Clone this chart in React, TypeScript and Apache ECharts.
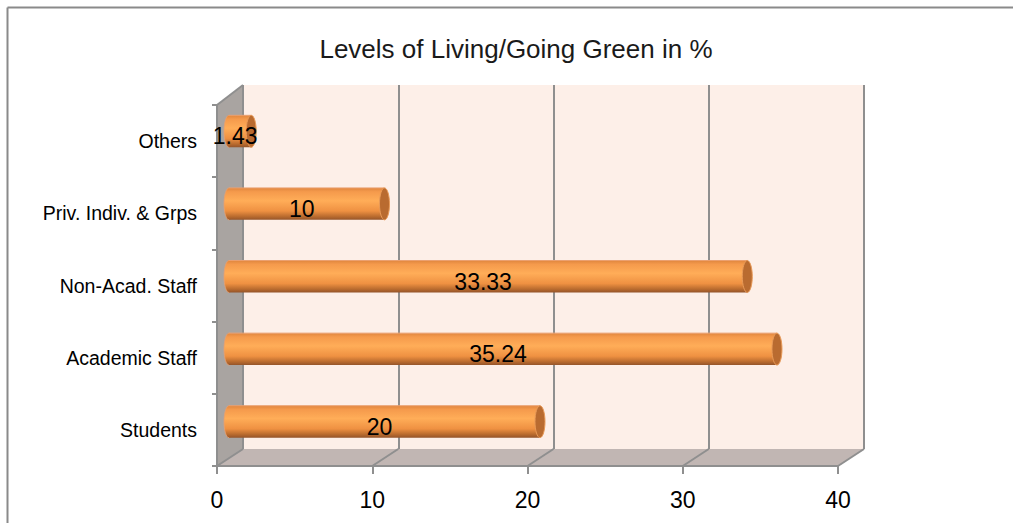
import React, { useEffect, useRef } from "react";
import * as echarts from "echarts";

const categories = ["Students", "Academic Staff", "Non-Acad. Staff", "Priv. Indiv. & Grps", "Others"];
const values = [20, 35.24, 33.33, 10, 1.43];
const valueLabels = ["20", "35.24", "33.33", "10", "1.43"];
const xTicks = [0, 10, 20, 30, 40];
const titleText = "Levels of Living/Going Green in %";

const FONT = "'Liberation Sans', Arial, sans-serif";
const GRID_COLOR = "#8f8f8f";

// layout of the three depth planes
const FRONT = { left: 217, top: 105, width: 621, height: 361 };
const BACK = { left: 243, top: 85, width: 621, height: 364 };
const MID = { left: 229, top: 95, width: 622, height: 363 };

export default function App() {
  const ref = useRef<HTMLDivElement>(null);

  useEffect(() => {
    if (!ref.current) return;
    const chart = echarts.init(ref.current, null, { renderer: "svg" });

    const grad = () =>
      new echarts.graphic.LinearGradient(0, 0, 0, 1, [
        { offset: 0, color: "#e0863e" },
        { offset: 0.12, color: "#f59a4c" },
        { offset: 0.4, color: "#ffad58" },
        { offset: 0.72, color: "#ef9142" },
        { offset: 0.9, color: "#b86a2e" },
        { offset: 1, color: "#94542a" },
      ]);

    const xF = (v: number) => FRONT.left + (v / 40) * FRONT.width;
    const xB = (v: number) => BACK.left + (v / 40) * BACK.width;
    const frontBottom = FRONT.top + FRONT.height;
    const backBottom = BACK.top + BACK.height;

    const graphics: any[] = [
      // outer frame
      { type: "line", shape: { x1: 7.5, y1: 7.5, x2: 1013, y2: 7.5 }, style: { stroke: "#8a8a8a", lineWidth: 2 }, z: 1 },
      { type: "line", shape: { x1: 7.5, y1: 7.5, x2: 7.5, y2: 523 }, style: { stroke: "#8a8a8a", lineWidth: 2 }, z: 1 },
      // floor
      {
        type: "polygon",
        shape: { points: [[xF(0), frontBottom], [xF(40), frontBottom], [xB(40), backBottom], [xB(0), backBottom]] },
        style: { fill: "#c1b6b3" },
        z: 1,
      },
      // left wall
      {
        type: "polygon",
        shape: { points: [[xF(0), FRONT.top], [xB(0), BACK.top], [xB(0), backBottom], [xF(0), frontBottom]] },
        style: { fill: "#a9a4a1" },
        z: 1,
      },
      {
        type: "line",
        shape: { x1: xF(0), y1: FRONT.top, x2: xB(0), y2: BACK.top },
        style: { stroke: GRID_COLOR, lineWidth: 2 },
        z: 2,
      },
      ...xTicks.map((t) => ({
        type: "line",
        shape: { x1: xF(t), y1: frontBottom, x2: xB(t), y2: backBottom },
        style: { stroke: GRID_COLOR, lineWidth: 2 },
        z: 2,
      })),
    ];

    const option: any = {
      animation: false,
      backgroundColor: "#ffffff",
      title: {
        text: titleText,
        left: 511,
        top: 31,
        textAlign: "center",
        textStyle: { fontFamily: FONT, fontSize: 26, fontWeight: "normal", color: "#1a1a1a" },
      },
      grid: [
        { ...BACK, show: true, backgroundColor: "#fdefe8", borderWidth: 0, z: 0 },
        { ...FRONT, show: false },
        { ...MID, show: false },
      ],
      xAxis: [
        {
          type: "value", gridIndex: 0, min: 0, max: 40, interval: 10,
          axisLine: { show: false }, axisTick: { show: false }, axisLabel: { show: false },
          splitLine: { show: true, lineStyle: { color: GRID_COLOR, width: 2 } },
          z: 1,
        },
        {
          type: "value", gridIndex: 1, min: 0, max: 40, interval: 10,
          axisLine: { show: true, lineStyle: { color: GRID_COLOR, width: 2 } },
          axisTick: { show: true, length: 8, lineStyle: { color: GRID_COLOR, width: 2 } },
          axisLabel: { show: true, fontFamily: FONT, fontSize: 23, color: "#000", margin: 22 },
          splitLine: { show: false },
          z: 3,
        },
        { type: "value", gridIndex: 2, min: 0, max: 40, show: false },
      ],
      yAxis: [
        { type: "category", gridIndex: 0, data: categories, show: false },
        {
          type: "category", gridIndex: 1, data: categories,
          axisLine: { show: true, lineStyle: { color: GRID_COLOR, width: 2 } },
          axisTick: { show: true, length: 5, lineStyle: { color: GRID_COLOR, width: 2 } },
          axisLabel: { show: true, fontFamily: FONT, fontSize: 19.5, color: "#000", margin: 20 },
          splitLine: { show: false },
          z: 3,
        },
        { type: "category", gridIndex: 2, data: categories, show: false },
      ],
      graphic: graphics,
      series: [
        {
          type: "custom",
          xAxisIndex: 2,
          yAxisIndex: 2,
          z: 10,
          encode: { x: 0, y: 1 },
          data: values.map((v, i) => [v, i]),
          renderItem: (params: any, api: any) => {
            const v = api.value(0);
            const c = api.value(1);
            const p0 = api.coord([0, c]);
            const p1 = api.coord([v, c]);
            const h = api.size([0, 1])[1] * 0.44;
            const y = p0[1];
            const rx = 5;
            return {
              type: "group",
              children: [
                { type: "ellipse", shape: { cx: p0[0], cy: y, rx, ry: h / 2 }, style: { fill: grad(), stroke: "#e8a070", lineWidth: 0.8 } },
                { type: "rect", shape: { x: p0[0], y: y - h / 2, width: p1[0] - p0[0], height: h }, style: { fill: grad() } },
                { type: "line", shape: { x1: p0[0], y1: y - h / 2, x2: p1[0], y2: y - h / 2 }, style: { stroke: "#eba070", lineWidth: 1 } },
                { type: "ellipse", shape: { cx: p1[0], cy: y, rx, ry: h / 2 }, style: { fill: "#b96b30", stroke: "#e89a58", lineWidth: 1 } },
                {
                  type: "text",
                  style: {
                    text: valueLabels[params.dataIndex],
                    x: (p0[0] + p1[0]) / 2 - 5,
                    y: y + 5,
                    align: "center",
                    verticalAlign: "middle",
                    fontFamily: FONT,
                    fontSize: 23,
                    fill: "#000",
                  },
                },
              ],
            };
          },
        },
      ],
    };

    chart.setOption(option);
    return () => chart.dispose();
  }, []);

  return <div ref={ref} style={{ position: "fixed", left: 0, top: 0, width: 1013, height: 523 }} />;
}
